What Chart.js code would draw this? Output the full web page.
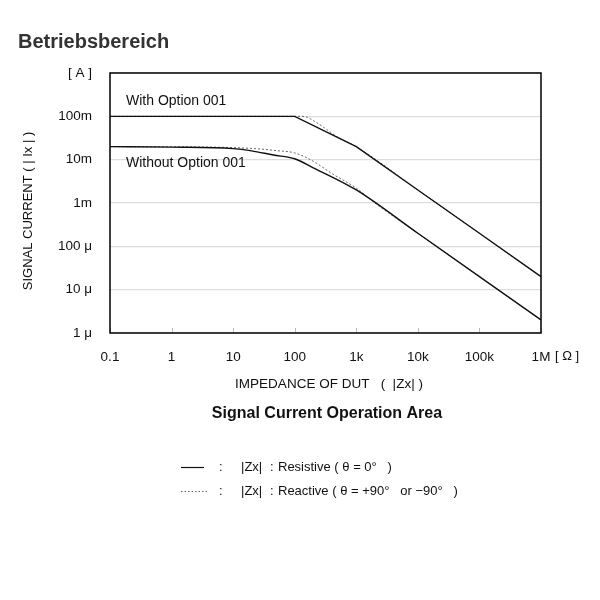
<!DOCTYPE html>
<html lang="de">
<head>
    <meta charset="UTF-8">
    <title>Betriebsbereich</title>
    <style>
        *{box-sizing:border-box}
        body{margin:0;background:#fff}
        canvas{display:block}
    </style>
    <script src="https://cdn.jsdelivr.net/npm/chart.js@4/dist/chart.umd.min.js"></script>
</head>
<body>
    <canvas id="chart" width="600" height="600"></canvas>

    <script>
        // Axis ticks
        const xTickValues = [0.1, 1, 10, 100, 1e3, 1e4, 1e5, 1e6];
        const xTickLabels = ['0.1', '1', '10', '100', '1k', '10k', '100k', '1M'];
        const yTickValues = [1e-6, 1e-5, 1e-4, 1e-3, 1e-2, 1e-1, 1];
        const yTickLabels = ['1 μ', '10 μ', '100 μ', '1m', '10m', '100m', '[ A ]'];

        // With Option 001 (resistive / reactive)
        const withResX = [0.1, 100, 1000, 1e4, 1e5, 1e6];
        const withResY = [0.1, 0.1, 0.02, 2e-3, 2e-4, 2e-5];
        const withReaX = [0.1, 100, 130, 160, 200, 300, 500, 1000, 1e4, 1e5, 1e6];
        const withReaY = [0.1, 0.1, 0.1, 0.095, 0.08, 0.055, 0.033, 0.02, 2e-3, 2e-4, 2e-5];

        // Without Option 001 (resistive / reactive)
        const withoutResX = [0.1, 1, 10, 20, 45, 100, 200, 1000, 1e4, 1e5, 1e6];
        const withoutResY = [0.02, 0.0195, 0.018, 0.016, 0.0128, 0.0105, 0.0065, 0.002, 2e-4, 2e-5, 2e-6];
        const withoutReaX = [0.1, 1, 10, 25, 50, 100, 200, 400, 1000, 2000, 1e4, 1e5, 1e6];
        const withoutReaY = [0.02, 0.0198, 0.019, 0.0178, 0.0162, 0.0143, 0.0092, 0.0048, 0.0022, 0.001, 2e-4, 2e-5, 2e-6];

        const font = 'Liberation Sans, Arial, sans-serif';

        function points(xs, ys) {
            return xs.map((x, i) => ({ x: x, y: ys[i] }));
        }

        function solid(xs, ys, smooth) {
            return {
                data: points(xs, ys),
                borderColor: '#111',
                borderWidth: 1.4,
                pointRadius: 0,
                cubicInterpolationMode: smooth ? 'monotone' : 'default',
                tension: 0
            };
        }

        function dotted(xs, ys) {
            return {
                data: points(xs, ys),
                borderColor: '#666',
                borderWidth: 1,
                borderDash: [2, 2],
                pointRadius: 0,
                cubicInterpolationMode: 'monotone'
            };
        }

        // Texts, frame and small bottom ticks
        const decorations = {
            id: 'decorations',
            afterDraw(chart) {
                const ctx = chart.ctx;
                const area = chart.chartArea;
                const xScale = chart.scales.x;
                ctx.save();

                // bottom inner tick marks
                ctx.strokeStyle = '#bbb';
                ctx.lineWidth = 1;
                xTickValues.forEach(v => {
                    const px = Math.round(xScale.getPixelForValue(v)) + 0.5;
                    ctx.beginPath();
                    ctx.moveTo(px, area.bottom);
                    ctx.lineTo(px, area.bottom - 5);
                    ctx.stroke();
                });

                // frame
                ctx.strokeStyle = '#000';
                ctx.lineWidth = 1.5;
                ctx.strokeRect(area.left, area.top, area.right - area.left, area.bottom - area.top);

                // title
                ctx.fillStyle = '#333';
                ctx.textBaseline = 'alphabetic';
                ctx.textAlign = 'left';
                ctx.font = 'bold 20px ' + font;
                ctx.fillText('Betriebsbereich', 18, 48);

                ctx.fillStyle = '#111';
                ctx.textBaseline = 'middle';
                ctx.font = '14px ' + font;
                ctx.fillText('With Option 001', 126, 101);
                ctx.fillText('Without Option 001', 126, 163);
                ctx.font = '13px ' + font;
                ctx.fillText('[ Ω ]', 555, 356);

                ctx.textAlign = 'center';
                ctx.font = '13.5px ' + font;
                ctx.fillText('IMPEDANCE OF DUT   (  |Zx| )', 329, 384);

                ctx.font = 'bold 16px ' + font;
                ctx.fillText('Signal Current Operation Area', 327, 414);

                // y axis title
                ctx.save();
                ctx.translate(28, 211);
                ctx.rotate(-Math.PI / 2);
                ctx.font = '13px ' + font;
                ctx.fillText('SIGNAL CURRENT ( | Ix | )', 0, 0);
                ctx.restore();

                // legend
                ctx.strokeStyle = '#111';
                ctx.lineWidth = 1.2;
                ctx.beginPath();
                ctx.moveTo(181, 467.5);
                ctx.lineTo(204, 467.5);
                ctx.stroke();
                ctx.strokeStyle = '#666';
                ctx.lineWidth = 1;
                ctx.setLineDash([1.5, 2]);
                ctx.beginPath();
                ctx.moveTo(181, 491.5);
                ctx.lineTo(208, 491.5);
                ctx.stroke();
                ctx.setLineDash([]);

                ctx.textAlign = 'left';
                ctx.font = '13px ' + font;
                ctx.fillStyle = '#111';
                [[467, 'Resistive ( θ = 0°   )'], [491, 'Reactive ( θ = +90°   or −90°   )']].forEach(([y, text]) => {
                    ctx.fillText(':', 219, y);
                    ctx.fillText('|Zx|', 241, y);
                    ctx.fillText(':', 270, y);
                    ctx.fillText(text, 278, y);
                });

                ctx.restore();
            }
        };

        new Chart(document.getElementById('chart'), {
            type: 'line',
            data: {
                datasets: [
                    solid(withResX, withResY, false),
                    solid(withoutResX, withoutResY, true),
                    dotted(withReaX, withReaY),
                    dotted(withoutReaX, withoutReaY)
                ]
            },
            options: {
                responsive: false,
                animation: false,
                layout: { padding: { top: 73, right: 59, left: 0, bottom: 0 } },
                plugins: { legend: { display: false }, tooltip: { enabled: false } },
                scales: {
                    x: {
                        type: 'logarithmic',
                        min: 0.1,
                        max: 1e6,
                        afterFit(scale) { scale.height = 267; },
                        afterBuildTicks(scale) { scale.ticks = xTickValues.map(v => ({ value: v })); },
                        grid: { display: false, drawTicks: false },
                        border: { display: false },
                        ticks: {
                            padding: 16,
                            maxRotation: 0,
                            autoSkip: false,
                            color: '#111',
                            font: { family: font, size: 13.5 },
                            callback: (value, index) => xTickLabels[index]
                        }
                    },
                    y: {
                        type: 'logarithmic',
                        min: 1e-6,
                        max: 1,
                        afterFit(scale) { scale.width = 110; },
                        afterBuildTicks(scale) { scale.ticks = yTickValues.map(v => ({ value: v })); },
                        grid: { color: '#ddd', lineWidth: 1.2, drawTicks: false },
                        border: { display: false },
                        ticks: {
                            padding: 18,
                            autoSkip: false,
                            color: '#111',
                            font: { family: font, size: 13.5 },
                            callback: (value, index) => yTickLabels[index]
                        }
                    }
                }
            },
            plugins: [decorations]
        });
    </script>
</body>
</html>
